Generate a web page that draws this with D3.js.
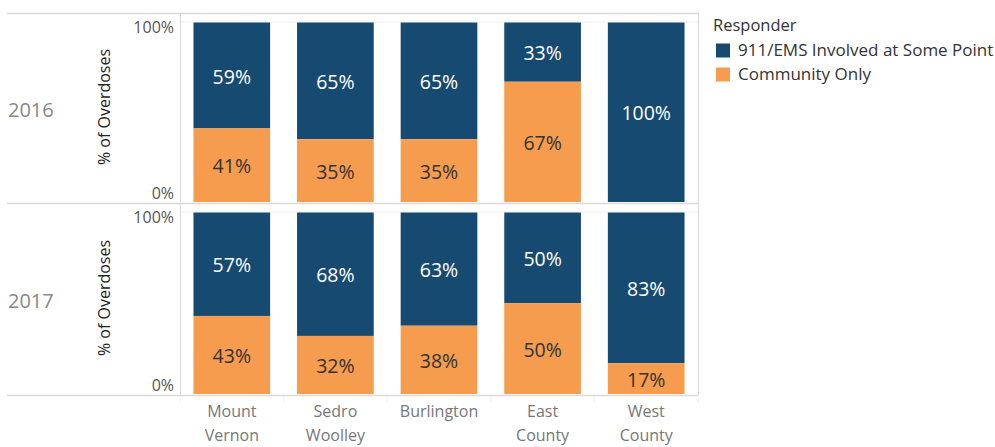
<!DOCTYPE html>
<html>
<head>
<meta charset="utf-8">
<script src="https://d3js.org/d3.v7.min.js"></script>
<style>
body { margin: 0; background: #fff; }
text { font-family: "Open Sans", sans-serif; }
</style>
</head>
<body>
<script>
var width = 995;
var height = 447;

// data
var places = ["Mount Vernon", "Sedro Woolley", "Burlington", "East County", "West County"];
var years = ["2016", "2017"];
var ems2016 = [59, 65, 65, 33, 100];
var community2016 = [41, 35, 35, 67, 0];
var ems2017 = [57, 68, 63, 50, 83];
var community2017 = [43, 32, 38, 50, 17];
var yTicks = [0, 1];

var series = [
  { name: "911/EMS Involved at Some Point", color: "#174a71", text: "#ffffff" },
  { name: "Community Only", color: "#f59c4e", text: "#333333" }
];

var rows = [
  { year: years[0], ems: ems2016, community: community2016, top: 13, bottom: 203 },
  { year: years[1], ems: ems2017, community: community2017, top: 203, bottom: 395 }
];

var plotLeft = 180, plotRight = 698, leftEdge = 7;
var grid = "#d9d9d9";

var svg = d3.select("body")
.append("svg")
.attr("width", width)
.attr("height", height);

var xScale = d3.scaleBand()
.domain(places)
.range([plotLeft, plotRight])
.paddingInner(0.26)
.paddingOuter(0.13);

rows.forEach(function(r) {
  var yScale = d3.scaleLinear()
  .domain([0, 1])
  .range([r.bottom - 1, r.top + 9.5]);

  // faint line at 100%
  svg.append("line")
  .attr("x1", plotLeft).attr("x2", plotRight)
  .attr("y1", yScale(1) - 0.5).attr("y2", yScale(1) - 0.5)
  .attr("stroke", "#f0f0f0");

  var stacks = places.map(function(p, i) {
    var total = r.ems[i] + r.community[i];
    var c = r.community[i] / total;
    return [
      { key: p, s: 0, v0: c, v1: 1, label: r.ems[i] },
      { key: p, s: 1, v0: 0, v1: c, label: r.community[i] }
    ];
  });
  var segs = d3.merge(stacks).filter(function(d) { return d.label > 0; });

  svg.append("g").selectAll("rect")
  .data(segs)
  .enter()
  .append("rect")
  .attr("x", function(d) { return xScale(d.key); })
  .attr("width", xScale.bandwidth())
  .attr("y", function(d) { return yScale(d.v1); })
  .attr("height", function(d) { return yScale(d.v0) - yScale(d.v1); })
  .attr("fill", function(d) { return series[d.s].color; });

  svg.append("g").selectAll("text")
  .data(segs)
  .enter()
  .append("text")
  .attr("x", function(d) { return xScale(d.key) + xScale.bandwidth() / 2; })
  .attr("y", function(d) { return (yScale(d.v0) + yScale(d.v1)) / 2; })
  .attr("dy", "0.42em")
  .attr("text-anchor", "middle")
  .attr("font-size", "19.5px")
  .attr("fill", function(d) { return series[d.s].text; })
  .text(function(d) { return d.label + "%"; });

  var yAxis = d3.axisLeft(yScale)
  .tickValues(yTicks)
  .tickSize(0)
  .tickPadding(6)
  .tickFormat(d3.format(".0%"));

  var ag = svg.append("g")
  .attr("transform", "translate(" + plotLeft + ",0)")
  .call(yAxis);
  ag.select(".domain").remove();
  ag.selectAll("text")
  .attr("font-size", "16px")
  .attr("font-family", "Open Sans, sans-serif")
  .attr("fill", "#555")
  .attr("dy", function(d) { return d === 1 ? "0.62em" : "-0.2em"; });

  svg.append("text")
  .attr("transform", "translate(110," + ((r.top + r.bottom) / 2 - 1) + ") rotate(-90)")
  .attr("text-anchor", "middle")
  .attr("font-size", "16px")
  .attr("fill", "#222")
  .text("% of Overdoses");

  svg.append("text")
  .attr("x", leftEdge + 1)
  .attr("y", (r.top + r.bottom) / 2 + 2)
  .attr("dy", "0.35em")
  .attr("font-size", "20px")
  .attr("fill", "#888")
  .text(r.year);
});

// borders
[13, 203, 395].forEach(function(y) {
  svg.append("line")
  .attr("x1", leftEdge).attr("x2", plotRight)
  .attr("y1", y + 0.5).attr("y2", y + 0.5)
  .attr("stroke", grid).attr("stroke-width", 1.5);
});
[plotLeft, plotRight].forEach(function(x) {
  svg.append("line")
  .attr("x1", x + 0.5).attr("x2", x + 0.5)
  .attr("y1", 13).attr("y2", 395)
  .attr("stroke", grid);
});

// x axis
var xAxis = d3.axisBottom(xScale).tickSize(0).tickPadding(10);
var xg = svg.append("g")
.attr("transform", "translate(0,396)")
.call(xAxis);
xg.select(".domain").remove();
xg.selectAll(".tick text")
.attr("font-size", "16px")
.attr("font-family", "Open Sans, sans-serif")
.attr("fill", "#777")
.each(function(d) {
  var words = d.split(" ");
  var t = d3.select(this).text(null);
  words.forEach(function(w, i) {
    t.append("tspan")
    .attr("x", 0)
    .attr("dy", i === 0 ? "0.69em" : "1.5em")
    .text(w);
  });
});

// header cell dividers below the axis
var step = xScale.step();
d3.range(places.length + 1).forEach(function(i) {
  svg.append("line")
  .attr("x1", plotLeft + i * step).attr("x2", plotLeft + i * step)
  .attr("y1", 396).attr("y2", 402)
  .attr("stroke", "#f0f0f0");
});

// legend
var legend = svg.append("g").attr("transform", "translate(713,0)");
legend.append("text")
.attr("x", 0).attr("y", 31)
.attr("font-size", "16.5px")
.attr("fill", "#333")
.text("Responder");

var items = legend.selectAll(".item")
.data(series)
.enter()
.append("g")
.attr("class", "item")
.attr("transform", function(d, i) { return "translate(0," + (50 + i * 24) + ")"; });
items.append("rect")
.attr("x", 3).attr("y", -6.5)
.attr("width", 14).attr("height", 14)
.attr("fill", function(d) { return d.color; });
items.append("text")
.attr("x", 25).attr("y", 0)
.attr("dy", "0.36em")
.attr("font-size", "17px")
.attr("fill", "#333")
.text(function(d) { return d.name; });
</script>
</body>
</html>
